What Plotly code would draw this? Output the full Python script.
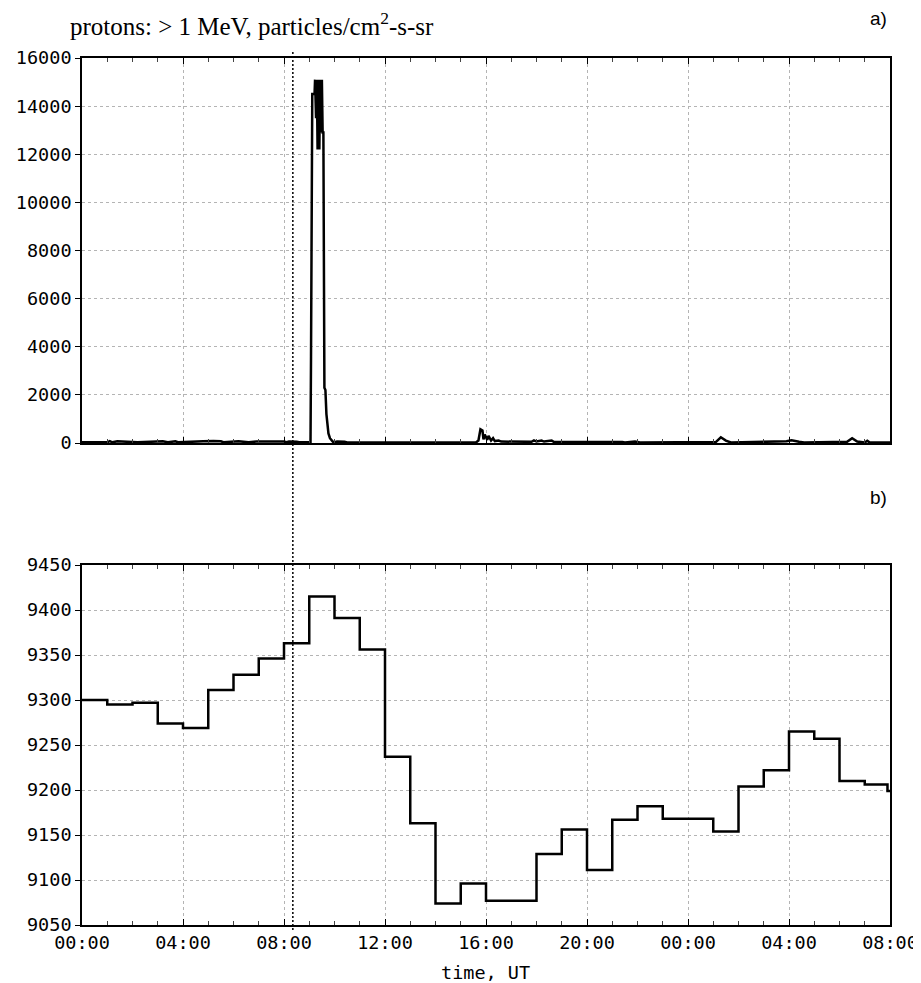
import pandas as pd
import plotly.graph_objects as go

# ---------------- data ----------------
# panel a) protons > 1 MeV flux (hours from start, value)
proton_hours = [0.0, 1.0, 1.1, 1.2, 1.4, 1.6, 1.8, 2.0, 2.2, 3.2, 3.4, 3.7, 3.8, 4.8, 5.0, 5.2, 5.5, 5.6,
                6.2, 6.5, 6.6, 6.9, 7.5, 8.0, 8.1, 8.2, 8.5, 8.6, 9.0, 9.05,
                9.07, 9.12, 9.21, 9.23, 9.27, 9.30, 9.33, 9.37, 9.40, 9.43, 9.47, 9.50, 9.53, 9.56,
                9.60, 9.64, 9.68, 9.72, 9.76, 9.82, 9.88, 9.94, 10.0, 10.1, 10.4, 10.5,
                15.6, 15.7, 15.78, 15.86, 15.9, 15.95, 16.05, 16.1, 16.2, 16.28, 16.35, 16.5, 16.6,
                17.0, 17.8, 17.9, 18.0, 18.2, 18.3, 18.6, 18.7, 21.4, 21.5, 21.9, 22.1,
                25.1, 25.3, 25.5, 25.7, 27.9, 28.1, 28.4, 28.6, 30.3, 30.5, 30.7, 31.0, 31.1, 31.2, 32.0]
proton_values = [30, 30, 80, 30, 70, 60, 80, 70, 30, 70, 30, 70, 30, 70, 60, 80, 70, 30,
                 70, 60, 30, 60, 70, 60, 30, 60, 50, 30, 30, 30,
                 3600, 14500, 14500, 15100, 13500, 15100, 12200, 15100, 12200, 15100, 12900, 15100, 12900, 12900,
                 2300, 2200, 1200, 600, 400, 200, 100, 50, 30, 60, 50, 20,
                 20, 100, 570, 520, 150, 350, 130, 300, 100, 200, 80, 100, 60,
                 50, 50, 110, 60, 100, 60, 100, 40, 40, 20, 60, 20,
                 40, 240, 100, 20, 70, 110, 50, 20, 50, 200, 60, 20, 90, 20, 20]

# panel b) hourly step series (hours from start, value)
step_hours = list(range(0, 32)) + [31.9, 32.0]
step_values = [9300, 9295, 9297, 9274, 9269, 9311, 9328, 9346, 9363, 9415, 9391, 9356,
               9237, 9163, 9074, 9096, 9077, 9077, 9129, 9156, 9111, 9167, 9182, 9168,
               9168, 9154, 9204, 9222, 9265, 9257, 9210, 9206, 9199, 9199]

event_hour = 8.35
x_tick_labels = ["00:00", "04:00", "08:00", "12:00", "16:00", "20:00", "00:00", "04:00", "08:00"]
top_yticks = [0, 2000, 4000, 6000, 8000, 10000, 12000, 14000, 16000]
bot_yticks = [9050, 9100, 9150, 9200, 9250, 9300, 9350, 9400, 9450]

base = pd.Timestamp("2000-01-01 00:00")
to_t = lambda hs: [base + pd.Timedelta(hours=h) for h in hs]
x_range = [base, base + pd.Timedelta(hours=32)]
tickvals = [base + pd.Timedelta(hours=4 * i) for i in range(9)]

# ---------------- figure geometry (page pixels; page body has an 8px margin) ----------------
OFF = 8
W, H = 921 - OFF, 983 - OFF
PL, PR, PT, PB = 82, 890, 58, 925          # plot area in page pixels
ml, mr, mt, mb = PL - OFF, W - (PR - OFF), PT - OFF, H - (PB - OFF)
pw, ph = PR - PL, PB - PT
px = lambda x: (x - PL) / pw
py = lambda y: (PB - y) / ph
top_dom = [py(443), 1.0]
bot_dom = [0.0, py(565)]

fig = go.Figure()
fig.add_trace(go.Scatter(x=to_t(proton_hours), y=proton_values, mode="lines",
                         line=dict(color="black", width=2.5), xaxis="x", yaxis="y",
                         showlegend=False, hoverinfo="skip"))
fig.add_trace(go.Scatter(x=to_t(step_hours), y=step_values, mode="lines",
                         line=dict(color="black", width=2.5, shape="hv"), xaxis="x2", yaxis="y2",
                         showlegend=False, hoverinfo="skip"))

tickfont = dict(family="DejaVu Sans Mono", size=18.5, color="black")
grid = dict(showgrid=True, gridcolor="#b4b4b4", gridwidth=1, griddash="dot")
xcommon = dict(type="date", range=x_range, tickvals=tickvals, ticktext=x_tick_labels,
               ticks="inside", ticklen=6, tickcolor="black", tickwidth=1,
               minor=dict(dtick=3600000, tick0=base, ticks="inside", ticklen=4,
                          tickcolor="#444", showgrid=False),
               showline=True, linecolor="black", linewidth=1.5, mirror="ticks",
               zeroline=False, tickfont=tickfont, automargin=False, **grid)
ycommon = dict(ticks="outside", ticklen=5, tickcolor="black", showline=True,
               linecolor="black", linewidth=1.5, mirror=True, zeroline=False,
               tickfont=tickfont, tickformat="d", automargin=False, **grid)

fig.update_layout(
    width=W, height=H,
    margin=dict(l=ml, r=mr, t=mt, b=mb, autoexpand=False),
    paper_bgcolor="white", plot_bgcolor="white",
    xaxis=dict(anchor="y", domain=[0, 1], showticklabels=False, **xcommon),
    yaxis=dict(anchor="x", domain=top_dom, range=[0, 16000], tickvals=top_yticks, **ycommon),
    xaxis2=dict(anchor="y2", domain=[0, 1], matches="x", showticklabels=True, **xcommon),
    yaxis2=dict(anchor="x2", domain=bot_dom, range=[9050, 9450], tickvals=bot_yticks, **ycommon),
    yaxis3=dict(anchor="x", overlaying="y", side="right", range=[0, 16000], tickvals=top_yticks,
                ticks="inside", ticklen=5, tickcolor="black", showticklabels=False,
                showgrid=False, zeroline=False, showline=False),
    yaxis4=dict(anchor="x2", overlaying="y2", side="right", range=[9050, 9450], tickvals=bot_yticks,
                ticks="inside", ticklen=5, tickcolor="black", showticklabels=False,
                showgrid=False, zeroline=False, showline=False),
    shapes=[dict(type="line", xref="x", yref="paper",
                 x0=base + pd.Timedelta(hours=event_hour), x1=base + pd.Timedelta(hours=event_hour),
                 y0=py(930), y1=py(50),
                 line=dict(color="black", width=1.5, dash="2px,2px"))],
    annotations=[
        dict(text="protons: > 1 MeV, particles/cm<sup>2</sup>-s-sr", xref="paper", yref="paper",
             x=px(68), y=py(24), xanchor="left", yanchor="middle",
             showarrow=False, font=dict(family="Liberation Serif", size=25, color="black")),
        dict(text="a)", xref="paper", yref="paper", x=px(889), y=py(19),
             xanchor="right", yanchor="middle", showarrow=False,
             font=dict(family="Liberation Sans", size=19, color="black")),
        dict(text="b)", xref="paper", yref="paper", x=px(889), y=py(497),
             xanchor="right", yanchor="middle", showarrow=False,
             font=dict(family="Liberation Sans", size=19, color="black")),
        dict(text="time, UT", xref="paper", yref="paper", x=px(485),
             y=py(972), xanchor="center", yanchor="middle", showarrow=False,
             font=dict(family="DejaVu Sans Mono", size=18.5, color="black")),
    ],
)

fig.write_html("out.html")
